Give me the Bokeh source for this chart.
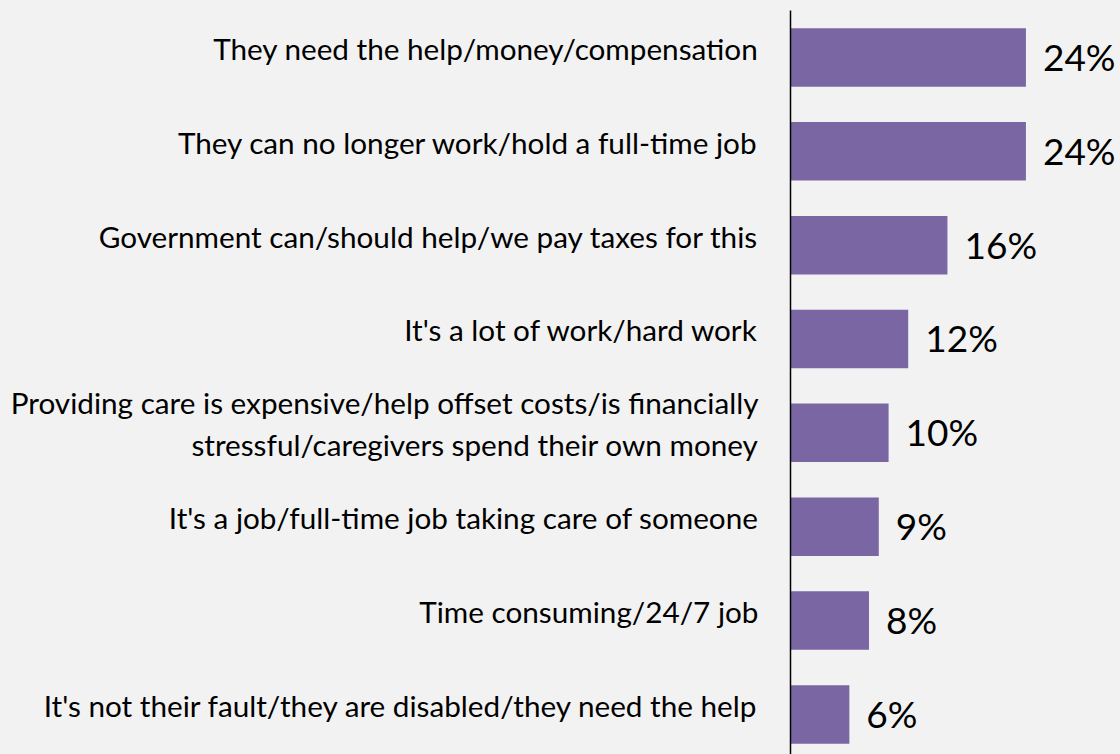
from bokeh.plotting import figure
from bokeh.models import ColumnDataSource, Range1d, FixedTicker
from bokeh.core.properties import value
from bokeh.embed import file_html
from bokeh.resources import INLINE

categories = [
    "They need the help/money/compensation",
    "They can no longer work/hold a full-time job",
    "Government can/should help/we pay taxes for this",
    "It's a lot of work/hard work",
    "Providing care is expensive/help offset costs/is financially\nstressful/caregivers spend their own money",
    "It's a job/full-time job taking care of someone",
    "Time consuming/24/7 job",
    "It's not their fault/they are disabled/they need the help",
]
values = [24, 24, 16, 12, 10, 9, 8, 6]
value_labels = ["24%", "24%", "16%", "12%", "10%", "9%", "8%", "6%"]

BG = "#F2F2F2"
BAR = "#7A66A2"
FONT = "Lato"

ypos = list(range(len(categories)))
src = ColumnDataSource(dict(y=ypos, v=values, lab=value_labels))

p = figure(width=1120, height=754, output_backend="svg", toolbar_location=None,
           x_range=Range1d(0, 33.64), y_range=Range1d(7.427, -0.5),
           min_border_left=790, min_border_right=0, min_border_top=10, min_border_bottom=0,
           background_fill_color=BG, border_fill_color=BG, outline_line_color=None)

p.hbar(y="y", right="v", left=0, height=0.623, source=src, color=BAR, line_color=None)
p.text(x="v", y="y", text="lab", source=src, x_offset=17, y_offset=-1, text_baseline="middle",
       text_align="left", text_font=value(FONT), text_font_size="37px", text_color="#000000")

p.xaxis.visible = False
p.grid.visible = False
ya = p.yaxis[0]
# category labels sit slightly above the bar centre (as in the original)
label_shift = 0.096
tick_pos = [i - label_shift for i in ypos]
ya.ticker = FixedTicker(ticks=tick_pos)
ya.major_label_overrides = {t: c for t, c in zip(tick_pos, categories)}
ya.major_tick_line_color = None
ya.minor_tick_line_color = None
ya.axis_line_color = "#000000"
ya.axis_line_width = 1.5
ya.major_label_standoff = 26
ya.major_label_text_font = FONT
ya.major_label_text_font_size = "29.7px"
ya.major_label_text_color = "#000000"

html = file_html(p, INLINE)
html = html.replace("<head>", "<head><style>body{background:#F2F2F2;}</style>", 1)
open("out.html", "w").write(html)
